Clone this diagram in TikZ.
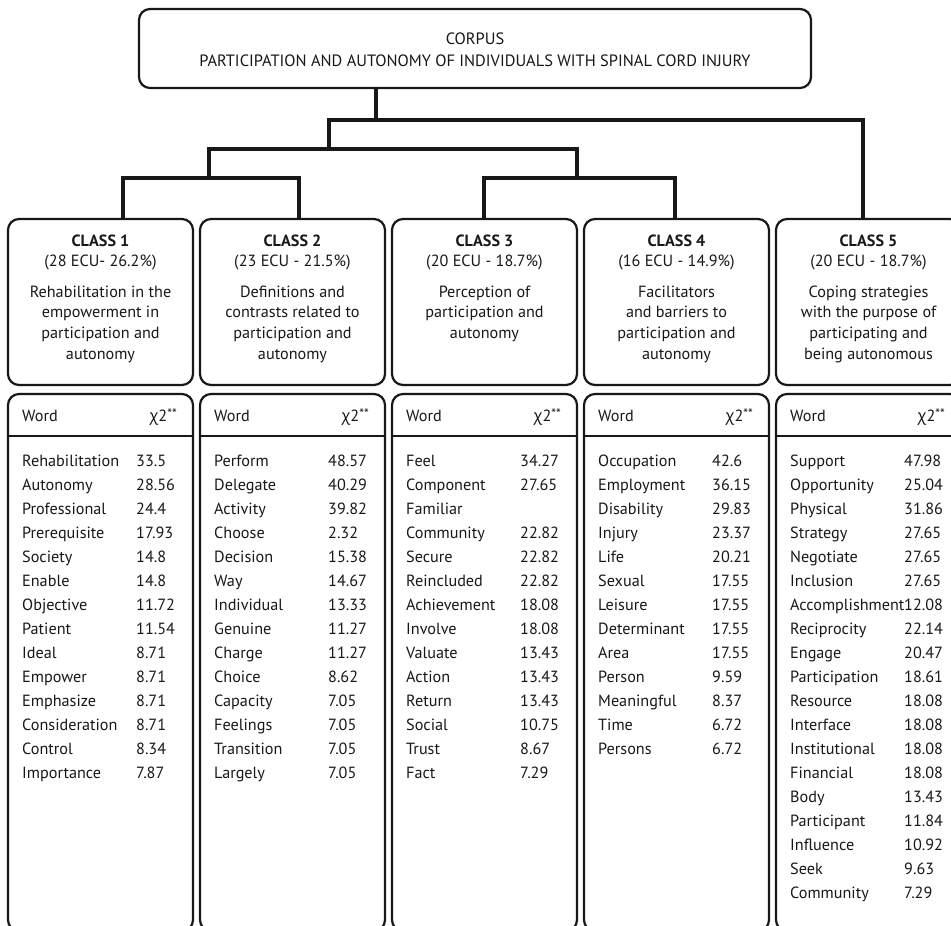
\documentclass[tikz,border=0pt]{standalone}
\usepackage{fontspec}
\setmainfont{PT Sans}
\newfontfamily\grkfont{Open Sans}
\definecolor{ink}{HTML}{1A1718}
\tikzset{
  boxshape/.style={draw=ink, line width=2.2pt, rounded corners=11pt, inner sep=0pt, outer sep=0pt, anchor=north west},
  treeline/.style={draw=ink, line width=3.3pt, line join=miter},
  sepline/.style={draw=ink, line width=1.2pt},
  cell/.style={anchor=base west, inner sep=0pt, text=ink, font=\fontsize{16.2}{19}\selectfont},
  ctext/.style={anchor=base, inner sep=0pt, text=ink, font=\fontsize{16.2}{19}\selectfont},
}
\newcommand\classhead[5]{%
  \node[boxshape, minimum width=185pt, minimum height=166pt] (#1) at (#2,219) {};
  \node[ctext, font=\fontsize{16.2}{19}\selectfont\bfseries] (#1t) at ({#2+92.5},246) {CLASS #3};
  \node[ctext] (#1e) at ({#2+92.5},266) {#4};
  \foreach \l [count=\i from 0] in {#5} {
    \node[ctext] (#1d\i) at ({#2+92.5},{297+20.7*\i}) {\l};
  }%
}
\newcommand\wordtab[3]{%
  \node[boxshape, minimum width=185pt, minimum height=537pt] (#1) at (#2,394) {};
  \draw[sepline] (#1.west |- 0,436) -- (#1.east |- 0,436);
  \node[cell] (#1word) at ({#2+14},421) {Word};
  \node[cell, anchor=base east] (#1chi) at ({#2+169},421) {{\grkfont χ}2\raisebox{2.5pt}{\fontsize{13.5}{13.5}\selectfont **}};
  \foreach \w/\v [count=\i from 0] in {#3} {
    \node[cell] (#1w\i) at ({#2+14},{466+24*\i}) {\w};
    \node[cell] (#1v\i) at ({#2+128},{466+24*\i}) {\v};
  }%
}
\begin{document}
\begin{tikzpicture}[x=1pt,y=-1pt]
\clip (0,0) rectangle (951,926);
\fill[white] (0,0) rectangle (951,926);
% corpus
\node[boxshape, minimum width=672pt, minimum height=79pt] (corpus) at (139,9) {};
\node[ctext, font=\fontsize{16.4}{19}\selectfont] (corpus1) at (475,45) {CORPUS};
\node[ctext, font=\fontsize{16.4}{19}\selectfont] (corpus2) at (475,66) {PARTICIPATION AND AUTONOMY OF INDIVIDUALS WITH SPINAL CORD INJURY};
% class headers
\classhead{h1}{8}{1}{(28 ECU- 26.2\%)}{Rehabilitation in the,empowerment in,participation and,autonomy}
\classhead{h2}{200}{2}{(23 ECU - 21.5\%)}{Definitions and,contrasts related to,participation and,autonomy}
\classhead{h3}{392}{3}{(20 ECU - 18.7\%)}{Perception of,participation and,autonomy}
\classhead{h4}{584}{4}{(16 ECU - 14.9\%)}{Facilitators,and barriers to,participation and,autonomy}
\classhead{h5}{776}{5}{(20 ECU - 18.7\%)}{Coping strategies,with the purpose of,participating and,being autonomous}
% tree
\coordinate (j0) at (376,120);
\coordinate (jl) at (329,120);
\coordinate (jr) at (863,120);
\coordinate (j1) at (329,149);
\coordinate (j1l) at (209,149);
\coordinate (j1r) at (577,149);
\coordinate (j2ll) at (123,178);
\coordinate (j2lr) at (299,178);
\coordinate (j2rl) at (484,178);
\coordinate (j2rr) at (675,178);
\draw[treeline] (corpus.south -| j0) -- (j0);
\draw[treeline] (h5.north -| jr) |- (jl) -- (j1);
\draw[treeline] (j1l |- j2ll) |- (j1r) -- (j1r |- j2rl);
\draw[treeline] (h1.north -| j2ll) |- (j2lr) -- (h2.north -| j2lr);
\draw[treeline] (h3.north -| j2rl) |- (j2rr) -- (h4.north -| j2rr);
% tables
\wordtab{t1}{8}{Rehabilitation/33.5,Autonomy/28.56,Professional/24.4,Prerequisite/17.93,Society/14.8,Enable/14.8,Objective/11.72,Patient/11.54,Ideal/8.71,Empower/8.71,Emphasize/8.71,Consideration/8.71,Control/8.34,Importance/7.87}
\wordtab{t2}{200}{Perform/48.57,Delegate/40.29,Activity/39.82,Choose/2.32,Decision/15.38,Way/14.67,Individual/13.33,Genuine/11.27,Charge/11.27,Choice/8.62,Capacity/7.05,Feelings/7.05,Transition/7.05,Largely/7.05}
\wordtab{t3}{392}{Feel/34.27,Component/27.65,Familiar/{},Community/22.82,Secure/22.82,Reincluded/22.82,Achievement/18.08,Involve/18.08,Valuate/13.43,Action/13.43,Return/13.43,Social/10.75,Trust/8.67,Fact/7.29}
\wordtab{t4}{584}{Occupation/42.6,Employment/36.15,Disability/29.83,Injury/23.37,Life/20.21,Sexual/17.55,Leisure/17.55,Determinant/17.55,Area/17.55,Person/9.59,Meaningful/8.37,Time/6.72,Persons/6.72}
\wordtab{t5}{776}{Support/47.98,Opportunity/25.04,Physical/31.86,Strategy/27.65,Negotiate/27.65,Inclusion/27.65,Accomplishment/12.08,Reciprocity/22.14,Engage/20.47,Participation/18.61,Resource/18.08,Interface/18.08,Institutional/18.08,Financial/18.08,Body/13.43,Participant/11.84,Influence/10.92,Seek/9.63,Community/7.29}
\end{tikzpicture}
\end{document}
